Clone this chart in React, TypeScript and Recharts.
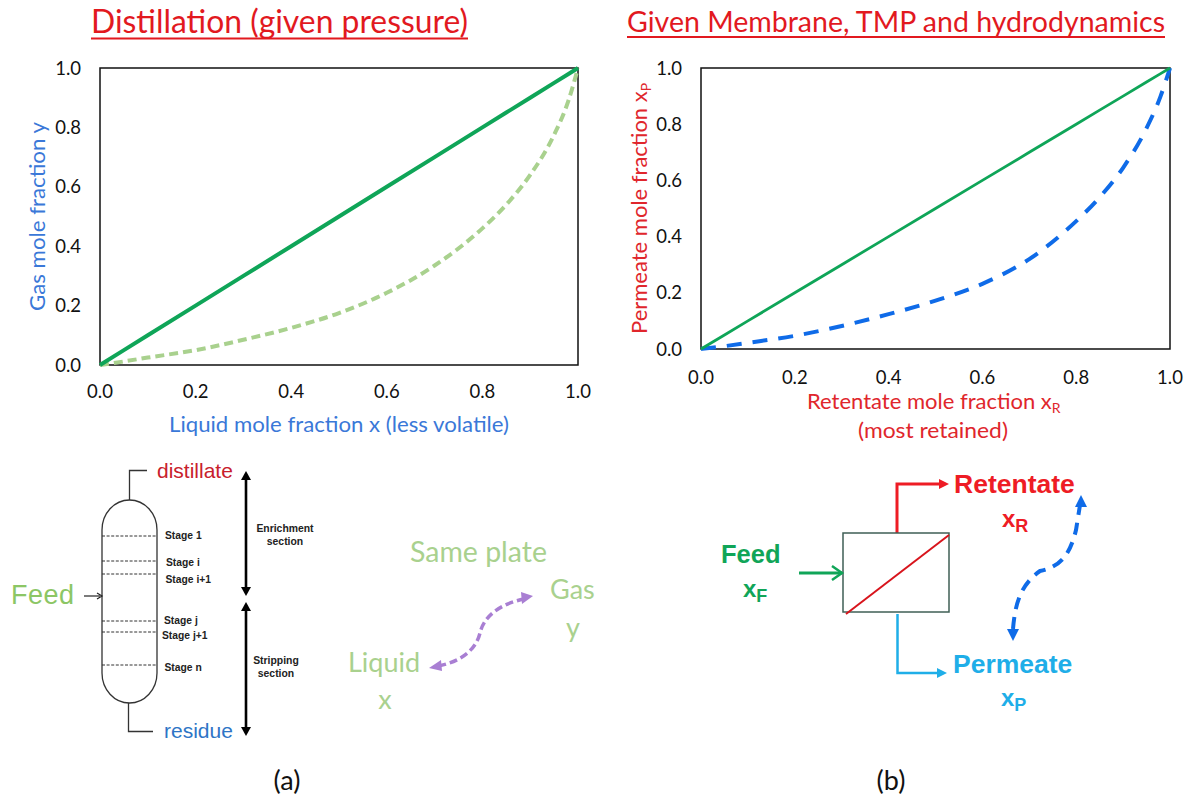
import { LineChart, Line, XAxis, YAxis, ReferenceArea } from 'recharts';

// values
const xValues = [0, 0.05, 0.1, 0.2, 0.3, 0.4, 0.5, 0.6, 0.7, 0.8, 0.85, 0.9, 0.95, 0.98, 1];
const diagonal = [0, 0.05, 0.1, 0.2, 0.3, 0.4, 0.5, 0.6, 0.7, 0.8, 0.85, 0.9, 0.95, 0.98, 1];
const distillationCurve = [0, 0.012, 0.025, 0.05, 0.085, 0.125, 0.175, 0.243, 0.335, 0.46, 0.54, 0.64, 0.775, 0.89, 1];
const membraneCurve = [0, 0.01, 0.022, 0.047, 0.082, 0.124, 0.172, 0.232, 0.32, 0.455, 0.54, 0.645, 0.786, 0.9, 1];
const ticks = [0, 0.2, 0.4, 0.6, 0.8, 1];

const stageLines = [536, 561, 574, 621, 632, 665];
const stageLabels = [
  { text: 'Stage 1', x: 165, y: 539 },
  { text: 'Stage i', x: 166, y: 566 },
  { text: 'Stage i+1', x: 165.5, y: 583 },
  { text: 'Stage j', x: 164, y: 624 },
  { text: 'Stage j+1', x: 162, y: 639 },
  { text: 'Stage n', x: 164.5, y: 671 },
];

const buildTable = (curve: number[]) =>
  xValues.map((x, i) => ({ x, curve: curve[i], diagonal: diagonal[i] }));

const TICK_STYLE = { fontFamily: 'Lato', fontSize: 18.5, fill: '#111' };
const SANS = 'Liberation Sans';
const LATO = 'Lato';

interface PlotProps {
  left: number;
  width: number;
  height: number;
  marginRight: number;
  marginBottom: number;
  curve: number[];
  curveColor: string;
  curveDash: string;
  lineWidth: number;
  xTickMargin: number;
}

function Plot({ left, width, height, marginRight, marginBottom, curve, curveColor, curveDash, lineWidth, xTickMargin }: PlotProps) {
  return (
    <div style={{ position: 'absolute', left, top: 0 }}>
      <LineChart
        width={width}
        height={height}
        data={buildTable(curve)}
        margin={{ top: 68, right: marginRight, bottom: marginBottom, left: 50 }}
      >
        <XAxis
          type="number"
          dataKey="x"
          domain={[0, 1]}
          ticks={ticks}
          interval={0}
          tickFormatter={(v: number) => v.toFixed(1)}
          tickLine={false}
          axisLine={false}
          tickMargin={xTickMargin}
          tick={TICK_STYLE}
          height={30}
        />
        <YAxis
          type="number"
          domain={[0, 1]}
          ticks={ticks}
          interval={0}
          tickFormatter={(v: number) => v.toFixed(1)}
          tickLine={false}
          axisLine={false}
          tickMargin={13}
          tick={TICK_STYLE}
          width={50}
        />
        <ReferenceArea x1={0} x2={1} y1={0} y2={1} fill="none" stroke="#111" strokeWidth={1.5} fillOpacity={0} />
        <Line
          type="monotone"
          dataKey="curve"
          stroke={curveColor}
          strokeWidth={4}
          strokeDasharray={curveDash}
          dot={false}
          isAnimationActive={false}
        />
        <Line
          type="linear"
          dataKey="diagonal"
          stroke="#0FA558"
          strokeWidth={lineWidth}
          dot={false}
          isAnimationActive={false}
        />
      </LineChart>
    </div>
  );
}

function Annotations() {
  return (
    <svg width={1192} height={798} style={{ position: 'absolute', left: 0, top: 0, pointerEvents: 'none' }}>
      {/* titles */}
      <text x={91} y={33} fontFamily={LATO} fontSize={32} fill="#E2191F" textLength={377} lengthAdjust="spacingAndGlyphs">
        Distillation (given pressure)
      </text>
      <line x1={91} x2={468} y1={38.5} y2={38.5} stroke="#E2191F" strokeWidth={2} />
      <text x={627} y={32} fontFamily={LATO} fontSize={29} fill="#E2191F" textLength={538} lengthAdjust="spacingAndGlyphs">
        Given Membrane, TMP and hydrodynamics
      </text>
      <line x1={627} x2={1165} y1={37} y2={37} stroke="#E2191F" strokeWidth={2} />

      {/* axis titles */}
      <text x={169} y={432} fontFamily={LATO} fontSize={22} fill="#3A78D8" textLength={340} lengthAdjust="spacingAndGlyphs">
        Liquid mole fraction x (less volatile)
      </text>
      <text transform="translate(45,311) rotate(-90)" fontFamily={LATO} fontSize={22} fill="#3A78D8" textLength={189} lengthAdjust="spacingAndGlyphs">
        Gas mole fraction y
      </text>
      <text x={807} y={409} fontFamily={LATO} fontSize={22} fill="#E0262C">
        Retentate mole fraction x<tspan fontSize={14} dy={4}>R</tspan>
      </text>
      <text x={858} y={438} fontFamily={LATO} fontSize={22} fill="#E0262C" textLength={150} lengthAdjust="spacingAndGlyphs">
        (most retained)
      </text>
      <text transform="translate(647,334) rotate(-90)" fontFamily={LATO} fontSize={22} fill="#E0262C">
        Permeate mole fraction x<tspan fontSize={14} dy={4}>P</tspan>
      </text>

      {/* distillation column */}
      <rect x={102} y={500} width={55} height={203} rx={27.5} ry={30} fill="none" stroke="#333" strokeWidth={1.3} />
      <path d="M129.5 500 V470.5 H147 M128.5 703 V731.5 H153" fill="none" stroke="#333" strokeWidth={1.3} />
      {stageLines.map((y) => (
        <line key={y} x1={102} x2={157} y1={y} y2={y} stroke="#333" strokeWidth={1} strokeDasharray="3 1.6" />
      ))}
      {stageLabels.map((s) => (
        <text key={s.text} x={s.x} y={s.y} fontFamily={SANS} fontWeight="bold" fontSize={10.3} fill="#222">
          {s.text}
        </text>
      ))}
      <text x={157} y={478} fontFamily={SANS} fontSize={21} fill="#C8202C">distillate</text>
      <text x={164} y={738} fontFamily={SANS} fontSize={21} fill="#2E75C6">residue</text>
      <text x={11} y={604} fontFamily={SANS} fontSize={27} letterSpacing={0.5} fill="#8CC665">Feed</text>
      <path d="M84 596 H100" stroke="#222" strokeWidth={1.2} fill="none" />
      <path d="M97 593 L102 596 L97 599" stroke="#222" strokeWidth={1.2} fill="none" />

      {/* section arrows */}
      <path d="M246 477 V589 M246 608 V729" stroke="#000" strokeWidth={2.6} fill="none" />
      <polygon points="246,471 241,480 251,480" fill="#000" />
      <polygon points="246,596 241,587 251,587" fill="#000" />
      <polygon points="246,602 241,611 251,611" fill="#000" />
      <polygon points="246,736 241,727 251,727" fill="#000" />
      <g fontFamily={SANS} fontWeight="bold" fontSize={10.4} fill="#222" textAnchor="middle">
        <text x={285} y={532}>Enrichment</text>
        <text x={285} y={545}>section</text>
        <text x={276} y={664}>Stripping</text>
        <text x={276} y={677}>section</text>
      </g>

      {/* same plate */}
      <g fontFamily={LATO} fontSize={27} fill="#A9D18E">
        <text x={410} y={562} textLength={137} lengthAdjust="spacingAndGlyphs" fontSize={28}>Same plate</text>
        <text x={550} y={599}>Gas</text>
        <text x={573} y={637} textAnchor="middle">y</text>
        <text x={348} y={672}>Liquid</text>
        <text x={385} y={709} textAnchor="middle">x</text>
      </g>
      <path d="M438 666 C460 662 476 650 480 633 C484 616 500 604 524 599" fill="none" stroke="#A97FD3" strokeWidth={3.5} strokeDasharray="8 4" />
      <polygon points="429,668 441,660 442,671" fill="#A97FD3" />
      <polygon points="533,596 521,592 522,604" fill="#A97FD3" />

      {/* membrane module */}
      <path d="M897 533 V484 H940" fill="none" stroke="#EE1C25" strokeWidth={3} />
      <polygon points="949,484 939,479 939,489" fill="#EE1C25" />
      <rect x={843} y={533} width={106} height={79} fill="none" stroke="#3F5F55" strokeWidth={1.5} />
      <line x1={846} y1={614} x2={949} y2={535} stroke="#D8141C" strokeWidth={2} />
      <path d="M799 573 H842" stroke="#10A558" strokeWidth={3} fill="none" />
      <path d="M832 566 L842 573 L832 580" stroke="#10A558" strokeWidth={2.5} fill="none" />
      <path d="M897.5 614 V673 H938" fill="none" stroke="#1FAEE8" strokeWidth={2.5} />
      <polygon points="947,673 937,668 937,678" fill="#1FAEE8" />

      <g fontFamily={SANS} fontWeight="bold">
        <text x={954} y={493} fontSize={26.5} fill="#EE1C25">Retentate</text>
        <text x={1002} y={527} fontSize={24} fill="#EE1C25">x<tspan fontSize={18} dy={5}>R</tspan></text>
        <text x={721} y={563} fontSize={25.5} fill="#10A558">Feed</text>
        <text x={743} y={597} fontSize={24} fill="#10A558">x<tspan fontSize={18} dy={5}>F</tspan></text>
        <text x={953} y={673} fontSize={26.5} fill="#1FAEE8">Permeate</text>
        <text x={1001} y={706} fontSize={24} fill="#1FAEE8">x<tspan fontSize={18} dy={5}>P</tspan></text>
      </g>
      <path d="M1013 629 C1015 605 1020 585 1040 571 C1060 567 1070 555 1076 530 L1080 505" fill="none" stroke="#0F6BE8" strokeWidth={4} strokeDasharray="12 8" />
      <polygon points="1013,641 1007,629 1019,629" fill="#0F6BE8" />
      <polygon points="1081,495 1075,507 1087,507" fill="#0F6BE8" />

      {/* panel letters */}
      <text x={287} y={790} textAnchor="middle" fontFamily={LATO} fontSize={27} fill="#111">(a)</text>
      <text x={891} y={790} textAnchor="middle" fontFamily={LATO} fontSize={27} fill="#111">(b)</text>
    </svg>
  );
}

export default function App() {
  return (
    <div style={{ position: 'absolute', left: 0, top: 0, width: 1192, height: 798, background: '#fff', overflow: 'hidden' }}>
      <Plot
        left={0}
        width={596}
        height={440}
        marginRight={18}
        marginBottom={45}
        curve={distillationCurve}
        curveColor="#A9D18E"
        curveDash="9 5"
        lineWidth={4}
        xTickMargin={14}
      />
      <Plot
        left={601}
        width={591}
        height={440}
        marginRight={22}
        marginBottom={61}
        curve={membraneCurve}
        curveColor="#0F6BE8"
        curveDash="15 11"
        lineWidth={2.8}
        xTickMargin={16}
      />
      <Annotations />
    </div>
  );
}
